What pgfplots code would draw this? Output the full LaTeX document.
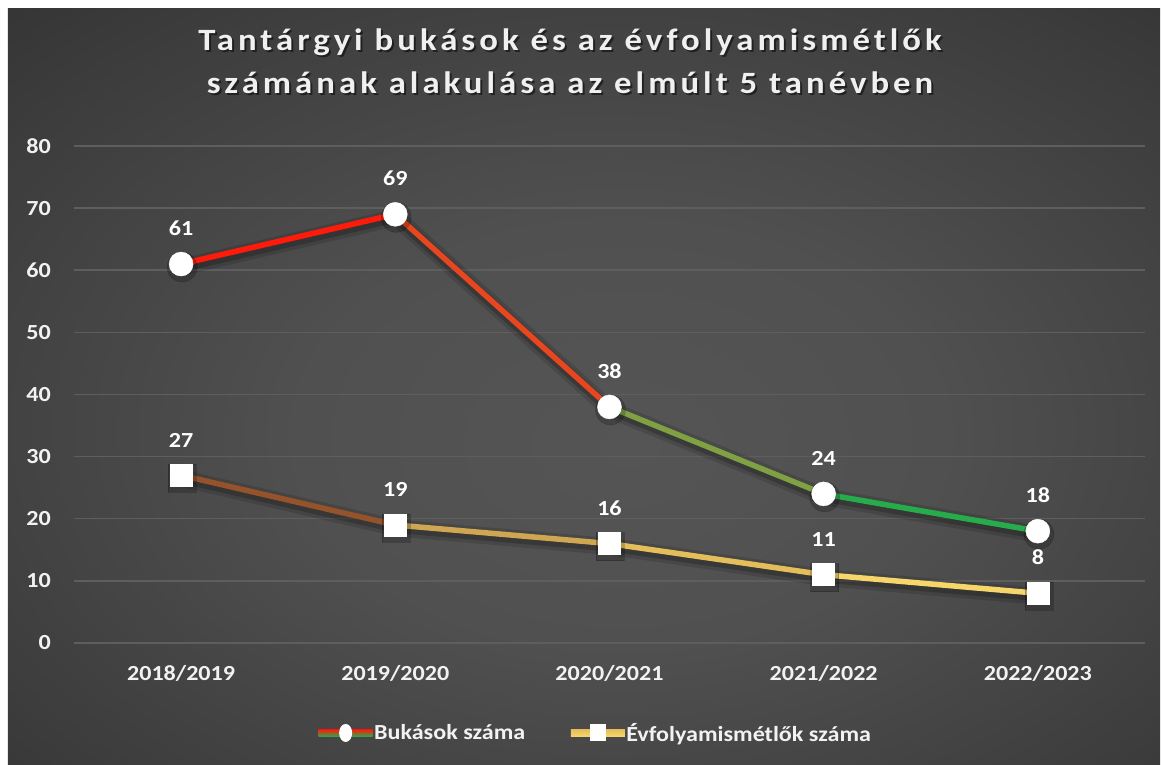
\documentclass[border=0pt]{standalone}
\usepackage{fontspec}
\setmainfont{Carlito}[FakeStretch=1.12]
\newfontfamily\titlefont{Carlito}[FakeStretch=1.12, LetterSpace=13]
\usepackage{pgfplots}
\pgfplotsset{compat=1.18}
\usetikzlibrary{backgrounds}

\definecolor{bgin}{HTML}{555555}
\definecolor{bgmid}{HTML}{3C3C3C}
\definecolor{bgout}{HTML}{262626}
\definecolor{gridc}{HTML}{5E5E5E}
% Bukások (red -> green)
\definecolor{rA}{HTML}{FF1A0A}
\definecolor{rB}{HTML}{E8461F}
\definecolor{rC}{HTML}{80A044}
\definecolor{rD}{HTML}{27AC4B}
% Évfolyamismétlők (brown -> yellow)
\definecolor{bA}{HTML}{94532A}
\definecolor{bB}{HTML}{CFA652}
\definecolor{bC}{HTML}{E4BE5A}
\definecolor{bD}{HTML}{F6D66A}

\pgfdeclareradialshading{chartbg}{\pgfpoint{2bp}{-4bp}}{%
  color(0bp)=(bgin); color(14bp)=(bgin!80!bgmid); color(32bp)=(bgmid); color(50bp)=(bgout); color(70bp)=(bgout)}

\pgfplotstableread{
x y
0 61
1 69
2 38
3 24
4 18
}\bukasok
\pgfplotstableread{
x y
0 27
1 19
2 16
3 11
4 8
}\ismetlok

\pgfplotsset{
  shadowA/.style={forget plot, black, opacity=0.13, line width=17pt, mark=none, xshift=1pt, yshift=-3pt, line join=round},
  shadowB/.style={forget plot, black, opacity=0.2, line width=10pt, mark=none, xshift=1pt, yshift=-3pt, line join=round},
  seg/.style={forget plot, line width=5.5pt, mark=none, line cap=round},
}
\newcommand{\lblfont}{\fontsize{21.5}{25}\selectfont\bfseries}

\begin{document}
\begin{tikzpicture}[x=1pt,y=1pt]
\begin{axis}[
    scale only axis, width=1071pt, height=497pt,
    xmin=-0.5, xmax=4.5, ymin=0, ymax=80,
    xtick={0,...,4},
    xticklabels={2018/2019,2019/2020,2020/2021,2021/2022,2022/2023},
    ytick={0,10,...,80},
    axis line style={draw=none},
    major tick length=0pt,
    ymajorgrids, grid style={gridc, line width=1.5pt},
    /pgf/number format/assume math mode=true,
    tick label style={font=\lblfont, text=white!95!black, inner sep=0pt},
    xticklabel style={anchor=center, yshift=-30pt},
    yticklabel style={anchor=east, xshift=-23pt},
    clip=false,
    legend style={at={(0.487,-0.181)}, anchor=center, draw=none, fill=none,
      text=white!95!black, font=\lblfont,
      legend columns=2, /tikz/every even column/.append style={column sep=44pt},
      nodes={inner sep=1.5pt}},
  ]
  \coordinate (O) at (axis cs:-0.5,0);
  % shadows
  \addplot[shadowA] table[x=x,y=y] {\bukasok};
  \addplot[shadowA] table[x=x,y=y] {\ismetlok};
  \addplot[shadowB] table[x=x,y=y] {\bukasok};
  \addplot[shadowB] table[x=x,y=y] {\ismetlok};
  \addplot[forget plot, only marks, black, opacity=0.2, mark=*, mark size=15pt, xshift=1pt, yshift=-3pt] table[x=x,y=y] {\bukasok};
  \addplot[forget plot, only marks, black, opacity=0.2, mark=square*, mark size=14pt, xshift=1pt, yshift=-3pt] table[x=x,y=y] {\ismetlok};

  % Évfolyamismétlők line segments
  \addplot[seg, bA] coordinates {(0,27)(1,19)};
  \addplot[seg, bB] coordinates {(1,19)(2,16)};
  \addplot[seg, bC] coordinates {(2,16)(3,11)};
  \addplot[seg, bD] coordinates {(3,11)(4,8)};
  % Bukások line segments
  \addplot[seg, rA] coordinates {(0,61)(1,69)};
  \addplot[seg, rB] coordinates {(1,69)(2,38)};
  \addplot[seg, rC] coordinates {(2,38)(3,24)};
  \addplot[seg, rD] coordinates {(3,24)(4,18)};

  % markers, labels and legend
  \addplot[only marks, mark=*, mark size=12pt, white,
    nodes near coords, nodes near coords style={font=\lblfont, text=white, anchor=south, inner sep=0pt, yshift=28pt},
    legend image code/.code={
      \path[draw=none, top color=rA, middle color=rB, bottom color=rD] (0pt,-3.5pt) rectangle (54pt,3.5pt);
      \path[draw=none, fill=white] (27pt,0pt) ellipse (6.5pt and 9pt);
    }] table[x=x,y=y] {\bukasok};
  \addlegendentry{Bukások száma}
  \addplot[only marks, mark=square*, mark size=11pt, white,
    nodes near coords, nodes near coords style={font=\lblfont, text=white, anchor=south, inner sep=0pt, yshift=28pt},
    legend image code/.code={
      \path[draw=none, top color=bC, middle color=bA, bottom color=bD] (0pt,-3.5pt) rectangle (54pt,3.5pt);
      \path[draw=none, fill=white] (19pt,-8.5pt) rectangle (35pt,8.5pt);
    }] table[x=x,y=y] {\ismetlok};
  \addlegendentry{Évfolyamismétlők száma}
\end{axis}

\begin{scope}[on background layer, shift={(O)}, shift={(-74,-122)}]
  \fill[white] (0,0) rectangle (1162,765);
  \shade[shading=chartbg] (8,0) rectangle (1160,756);
  % title with soft shadow
  \node[font=\fontsize{31}{43}\selectfont\titlefont\bfseries, text=black, opacity=0.5, align=center] at (572,702) {Tantárgyi bukások és az évfolyamismétlők\\számának alakulása az elmúlt 5 tanévben};
  \node[font=\fontsize{31}{43}\selectfont\titlefont\bfseries, text=white!94!black, align=center] at (570,704) {Tantárgyi bukások és az évfolyamismétlők\\számának alakulása az elmúlt 5 tanévben};
\end{scope}
\end{tikzpicture}
\end{document}
